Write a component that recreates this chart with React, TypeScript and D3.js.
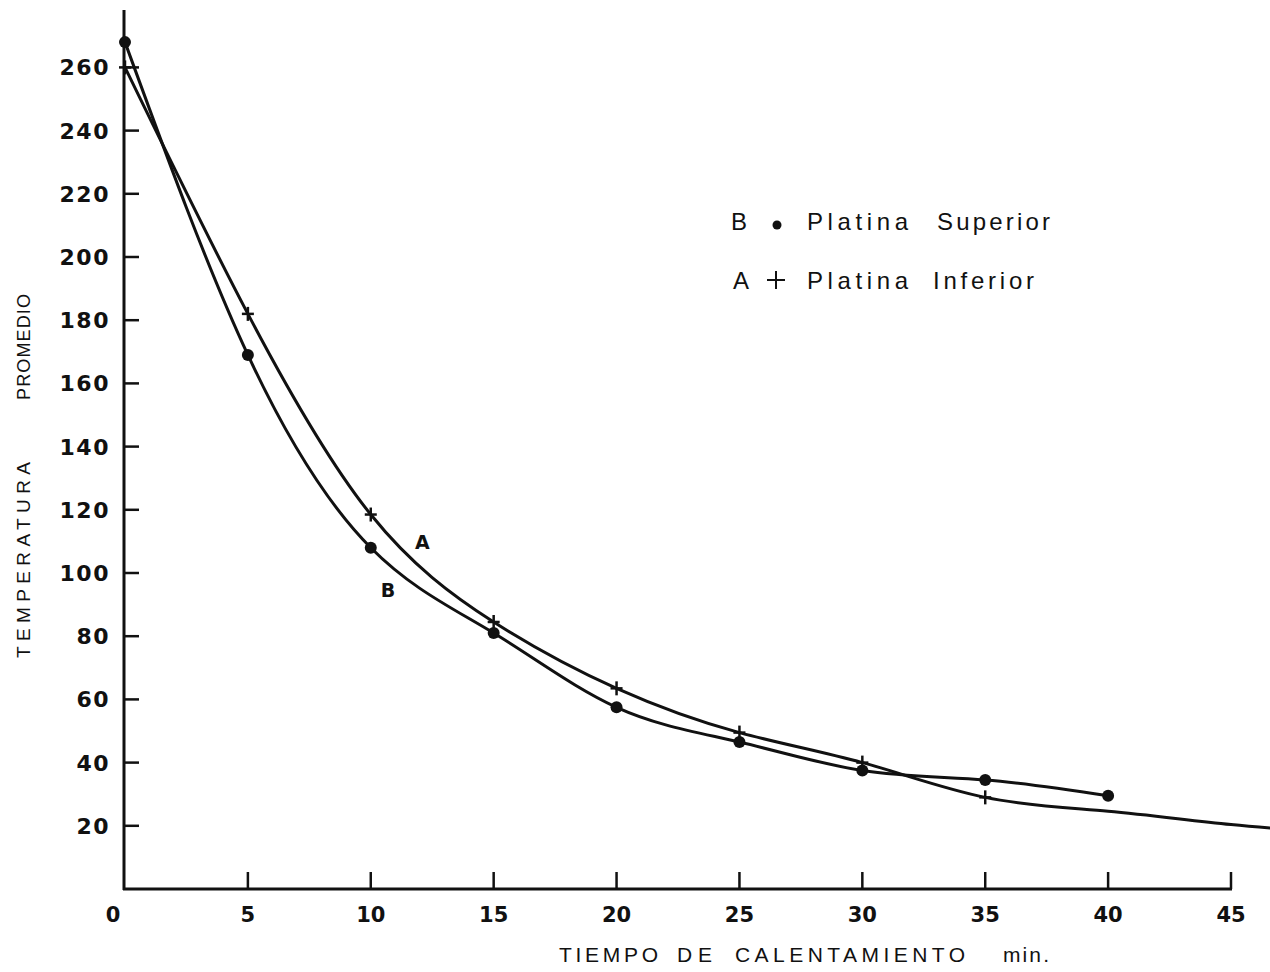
import { useRef, useEffect } from 'react';
import * as d3 from 'd3';

// datos
const tiempo = [0, 5, 10, 15, 20, 25, 30, 35, 40];
const platinaSuperior = [268, 169, 108, 81, 57.5, 46.5, 37.5, 34.5, 29.5]; // B
const platinaInferior = [260, 182, 118.5, 84.5, 63.5, 49.5, 40, 29, null]; // A
// la curva A sigue más allá del último punto medido (se corta en el borde)
const curvaAExtra = [[40, 24.6], [45, 20.4], [50, 17.4]];

const xTicks = [0, 5, 10, 15, 20, 25, 30, 35, 40, 45];
const yTicks = [20, 40, 60, 80, 100, 120, 140, 160, 180, 200, 220, 240, 260];

const W = 1270;
const H = 972;

export default function App() {
    const svgRef = useRef<SVGSVGElement>(null);

    useEffect(() => {
        const svg = d3.select(svgRef.current).html('');
        const x = d3.scaleLinear().domain([0, 45]).range([125, 1231]);
        const y = d3.scaleLinear().domain([0, 260]).range([889, 67.4]);
        const ink = '#111';
        const tickFont = "'DejaVu Sans', sans-serif";
        const letterFont = "'Liberation Sans', 'DejaVu Sans', sans-serif";

        // texto con ancho fijo (rotulado a plantilla)
        const palabra = (g: any, txt: string, x0: number, y0: number, len: number | null, size: number) => {
            const t = g.append('text')
                .attr('x', x0).attr('y', y0)
                .attr('font-family', letterFont)
                .attr('font-size', size)
                .attr('fill', ink)
                .text(txt);
            if (len) t.attr('textLength', len).attr('lengthAdjust', 'spacing');
            return t;
        };

        // ejes
        svg.append('line')
            .attr('x1', 124).attr('x2', 124).attr('y1', 10).attr('y2', 890)
            .attr('stroke', ink).attr('stroke-width', 3);
        svg.append('line')
            .attr('x1', 123).attr('x2', x(45) + 1).attr('y1', 889).attr('y2', 889)
            .attr('stroke', ink).attr('stroke-width', 3);

        // marcas eje Y
        svg.selectAll('.ytick')
            .data(yTicks)
            .enter()
            .append('line')
            .attr('x1', 124).attr('x2', 139)
            .attr('y1', d => y(d)).attr('y2', d => y(d))
            .attr('stroke', ink).attr('stroke-width', 2.5);
        svg.selectAll('.ylab')
            .data(yTicks)
            .enter()
            .append('text')
            .attr('x', 110)
            .attr('y', d => y(d) + 8)
            .attr('text-anchor', 'end')
            .attr('font-family', tickFont)
            .attr('font-weight', 'bold')
            .attr('font-size', 22)
            .attr('letter-spacing', 1.5)
            .attr('fill', ink)
            .text(d => d);

        // marcas eje X
        svg.selectAll('.xtick')
            .data(xTicks.filter(d => d > 0))
            .enter()
            .append('line')
            .attr('x1', d => x(d)).attr('x2', d => x(d))
            .attr('y1', 889).attr('y2', 872)
            .attr('stroke', ink).attr('stroke-width', 2.5);
        svg.selectAll('.xlab')
            .data(xTicks)
            .enter()
            .append('text')
            .attr('x', d => (d === 0 ? 113 : x(d)))
            .attr('y', 922)
            .attr('text-anchor', 'middle')
            .attr('font-family', tickFont)
            .attr('font-weight', 'bold')
            .attr('font-size', 21)
            .attr('fill', ink)
            .text(d => d);

        // títulos de ejes
        const tx = svg.append('g');
        palabra(tx, 'TIEMPO', 559, 962, 99, 21);
        palabra(tx, 'DE', 677, 962, 35, 21);
        palabra(tx, 'CALENTAMIENTO', 735, 962, 230, 21);
        palabra(tx, 'min.', 1003, 962, 46, 21);

        const ty = svg.append('g').attr('transform', 'translate(30, 0) rotate(-90)');
        palabra(ty, 'TEMPERATURA', -658, 0, 196, 19);
        palabra(ty, 'PROMEDIO', -400, 0, 106, 18);

        // curvas
        const line = d3.line<[number, number]>()
            .x(d => x(d[0]))
            .y(d => y(d[1]))
            .curve(d3.curveNatural);

        const datosB: [number, number][] = tiempo.map((t, i) => [t, platinaSuperior[i]]);
        const datosA: [number, number][] = tiempo
            .map((t, i) => [t, platinaInferior[i]] as [number, number | null])
            .filter(d => d[1] !== null) as [number, number][];

        svg.append('path')
            .attr('d', line(datosB))
            .attr('fill', 'none').attr('stroke', ink).attr('stroke-width', 3);
        svg.append('path')
            .attr('d', line([...datosA, ...(curvaAExtra as [number, number][])]))
            .attr('fill', 'none').attr('stroke', ink).attr('stroke-width', 3);

        // puntos B
        svg.selectAll('.dotB')
            .data(datosB)
            .enter()
            .append('circle')
            .attr('cx', d => x(d[0]))
            .attr('cy', d => y(d[1]))
            .attr('r', 6)
            .attr('fill', ink);

        // cruces A
        const cruces = svg.selectAll('.plusA')
            .data(datosA)
            .enter()
            .append('g')
            .attr('transform', d => `translate(${x(d[0])},${y(d[1])})`);
        cruces.append('line').attr('x1', -6).attr('x2', 6).attr('y1', 0).attr('y2', 0)
            .attr('stroke', ink).attr('stroke-width', 2.5);
        cruces.append('line').attr('x1', 0).attr('x2', 0).attr('y1', -7).attr('y2', 7)
            .attr('stroke', ink).attr('stroke-width', 2.5);

        // etiquetas de curva
        svg.append('text')
            .attr('x', x(12.1)).attr('y', y(107.5))
            .attr('text-anchor', 'middle')
            .attr('font-family', tickFont).attr('font-weight', 'bold').attr('font-size', 19)
            .attr('fill', ink).text('A');
        svg.append('text')
            .attr('x', x(10.7)).attr('y', y(92.5))
            .attr('text-anchor', 'middle')
            .attr('font-family', tickFont).attr('font-weight', 'bold').attr('font-size', 19)
            .attr('fill', ink).text('B');

        // leyenda
        const leg = svg.append('g');
        palabra(leg, 'B', 731, 230, null, 24);
        leg.append('circle').attr('cx', 777).attr('cy', 225).attr('r', 4.5).attr('fill', ink);
        palabra(leg, 'Platina', 807, 230, 101, 24);
        palabra(leg, 'Superior', 937, 230, 113, 24);
        palabra(leg, 'A', 733, 289, null, 24);
        leg.append('line').attr('x1', 767).attr('x2', 785).attr('y1', 280).attr('y2', 280)
            .attr('stroke', ink).attr('stroke-width', 2);
        leg.append('line').attr('x1', 776).attr('x2', 776).attr('y1', 271).attr('y2', 289)
            .attr('stroke', ink).attr('stroke-width', 2);
        palabra(leg, 'Platina', 807, 289, 101, 24);
        palabra(leg, 'Inferior', 933, 289, 101, 24);
    }, []);

    return (
        <svg ref={svgRef} width={W} height={H}
            style={{ position: 'absolute', left: 0, top: 0, background: '#fff' }} />
    );
}
